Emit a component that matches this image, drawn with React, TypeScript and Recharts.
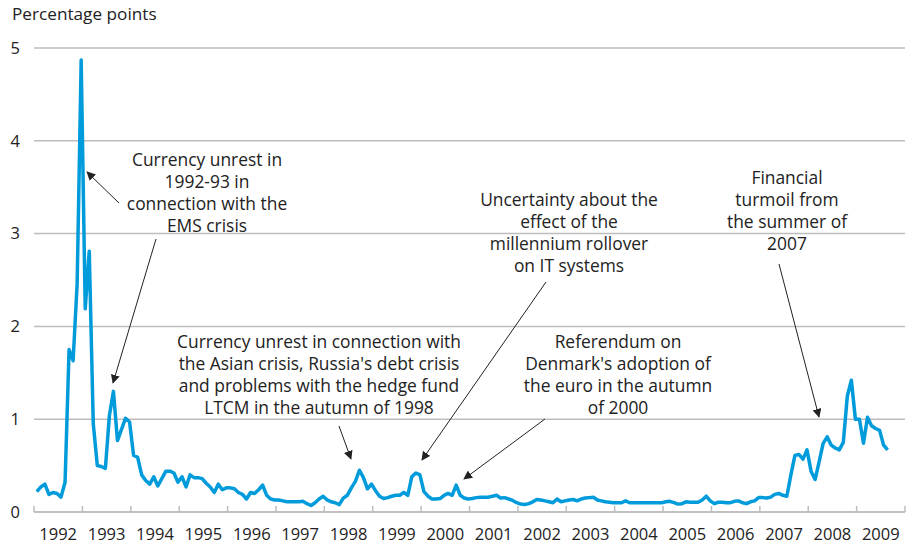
import { LineChart, Line, XAxis, YAxis, CartesianGrid } from 'recharts';

// Interest-rate spread, monthly, Jan 1992 - Aug 2009 (percentage points)
const years = [1992, 1993, 1994, 1995, 1996, 1997, 1998, 1999, 2000, 2001, 2002, 2003, 2004, 2005, 2006, 2007, 2008, 2009];

const v1992 = [0.22, 0.27, 0.30, 0.19, 0.21, 0.20, 0.16, 0.32, 1.75, 1.63, 2.46, 4.87];
const v1993 = [2.19, 2.81, 0.95, 0.50, 0.49, 0.47, 1.04, 1.30, 0.77, 0.89, 1.01, 0.97];
const v1994 = [0.61, 0.59, 0.40, 0.34, 0.30, 0.38, 0.28, 0.36, 0.44, 0.44, 0.42, 0.32];
const v1995 = [0.38, 0.27, 0.40, 0.37, 0.37, 0.36, 0.31, 0.27, 0.21, 0.30, 0.24, 0.26];
const v1996 = [0.26, 0.25, 0.21, 0.19, 0.14, 0.21, 0.20, 0.24, 0.29, 0.18, 0.14, 0.13];
const v1997 = [0.13, 0.12, 0.11, 0.11, 0.11, 0.11, 0.115, 0.09, 0.07, 0.10, 0.14, 0.17];
const v1998 = [0.13, 0.11, 0.10, 0.08, 0.15, 0.18, 0.26, 0.33, 0.45, 0.37, 0.25, 0.30];
const v1999 = [0.23, 0.17, 0.145, 0.155, 0.17, 0.18, 0.18, 0.21, 0.18, 0.38, 0.42, 0.40];
const v2000 = [0.22, 0.17, 0.14, 0.14, 0.145, 0.18, 0.20, 0.18, 0.29, 0.18, 0.15, 0.14];
const v2001 = [0.145, 0.155, 0.16, 0.16, 0.16, 0.17, 0.18, 0.15, 0.155, 0.14, 0.125, 0.10];
const v2002 = [0.085, 0.08, 0.09, 0.11, 0.135, 0.13, 0.12, 0.11, 0.10, 0.14, 0.11, 0.12];
const v2003 = [0.13, 0.135, 0.12, 0.14, 0.15, 0.155, 0.16, 0.13, 0.12, 0.11, 0.105, 0.10];
const v2004 = [0.10, 0.10, 0.12, 0.10, 0.10, 0.10, 0.10, 0.10, 0.10, 0.10, 0.10, 0.10];
const v2005 = [0.11, 0.115, 0.10, 0.085, 0.09, 0.11, 0.105, 0.105, 0.105, 0.13, 0.17, 0.12];
const v2006 = [0.09, 0.105, 0.105, 0.10, 0.10, 0.115, 0.12, 0.10, 0.09, 0.11, 0.12, 0.155];
const v2007 = [0.155, 0.15, 0.16, 0.19, 0.20, 0.18, 0.17, 0.40, 0.61, 0.62, 0.57, 0.67];
const v2008 = [0.44, 0.35, 0.54, 0.74, 0.81, 0.72, 0.69, 0.67, 0.75, 1.25, 1.42, 1.00];
const v2009 = [1.00, 0.74, 1.02, 0.93, 0.90, 0.88, 0.72, 0.67];

const series = [v1992, v1993, v1994, v1995, v1996, v1997, v1998, v1999, v2000, v2001, v2002, v2003, v2004, v2005, v2006, v2007, v2008, v2009];

const yTicks = [0, 1, 2, 3, 4, 5];
const xTicks = [...years, 2010];

const data = series.flatMap((vals, k) => vals.map((v, m) => ({ t: years[k] + (m + 0.7) / 12, v })));

const notes = [
  { cx: 207, y0: 159, lines: ['Currency unrest in', '1992-93 in', 'connection with the', 'EMS crisis'] },
  { cx: 319, y0: 341, lines: ['Currency unrest in connection with', "the Asian crisis, Russia's debt crisis", 'and problems with the hedge fund', 'LTCM in the autumn of 1998'] },
  { cx: 569, y0: 199, lines: ['Uncertainty about the', 'effect of the', 'millennium rollover', 'on IT systems'] },
  { cx: 618, y0: 341, lines: ['Referendum on', "Denmark's adoption of", 'the euro in the autumn', 'of 2000'] },
  { cx: 787, y0: 177, lines: ['Financial', 'turmoil from', 'the summer of', '2007'] },
];

const arrows = [
  [119, 203, 87, 172],
  [156, 239, 113, 383],
  [339, 426, 351, 459],
  [546, 282, 422, 460],
  [545, 419, 464, 479],
  [779, 264, 819, 417],
];

const FONT = '"Open Sans", sans-serif';
const TEXT = '#222';
const GRID = '#bdbdbd';
const YEAR_HALF = 871 / 18 / 2;

const YearTick = (props: any) => {
  const { x, y, payload } = props;
  const v = payload.value;
  return (
    <g>
      <line x1={x} x2={x} y1={y} y2={y - 6} stroke={GRID} strokeWidth={1.5} />
      {v < 2010 && (
        <text x={x + YEAR_HALF} y={y + 21} textAnchor="middle" dominantBaseline="central" fontSize={16.5} fill={TEXT} fontFamily={FONT}>
          {v}
        </text>
      )}
    </g>
  );
};

export default function App() {
  return (
    <div style={{ position: 'absolute', left: 0, top: 0, width: 907, height: 548, background: '#fff' }}>
      <LineChart width={907} height={548} data={data} margin={{ top: 48, right: 2, bottom: 0, left: 0 }}>
        <CartesianGrid vertical={false} stroke={GRID} strokeWidth={1.5} />
        <XAxis
          dataKey="t"
          type="number"
          domain={[1992, 2010]}
          ticks={xTicks}
          interval={0}
          height={36}
          axisLine={{ stroke: GRID, strokeWidth: 1.5 }}
          tickLine={false}
          tickSize={0}
          tickMargin={0}
          tick={<YearTick />}
        />
        <YAxis
          type="number"
          domain={[0, 5]}
          ticks={yTicks}
          width={34}
          axisLine={false}
          tickLine={false}
          tickSize={0}
          tickMargin={14}
          tick={{ fontSize: 16.5, fill: TEXT, fontFamily: FONT }}
        />
        <Line
          type="linear"
          dataKey="v"
          stroke="#009bda"
          strokeWidth={3.5}
          dot={false}
          strokeLinejoin="round"
          isAnimationActive={false}
        />
      </LineChart>
      <svg width={907} height={548} style={{ position: 'absolute', left: 0, top: 0, pointerEvents: 'none' }}>
        <defs>
          <marker id="head" viewBox="0 0 10 10" refX="9" refY="5" markerWidth="9" markerHeight="9" markerUnits="userSpaceOnUse" orient="auto">
            <path d="M0,0 L10,5 L0,10 z" fill={TEXT} />
          </marker>
        </defs>
        <text x={12} y={13} dominantBaseline="central" fontSize={17.2} fill={TEXT} fontFamily={FONT}>
          Percentage points
        </text>
        {notes.map((n, i) => (
          <text key={i} textAnchor="middle" fontSize={17.4} fill={TEXT} fontFamily={FONT}>
            {n.lines.map((l, j) => (
              <tspan key={j} x={n.cx} y={n.y0 + j * 22} dominantBaseline="central">
                {l}
              </tspan>
            ))}
          </text>
        ))}
        {arrows.map(([x1, y1, x2, y2], i) => (
          <line key={i} x1={x1} y1={y1} x2={x2} y2={y2} stroke={TEXT} strokeWidth={1} markerEnd="url(#head)" />
        ))}
      </svg>
    </div>
  );
}
